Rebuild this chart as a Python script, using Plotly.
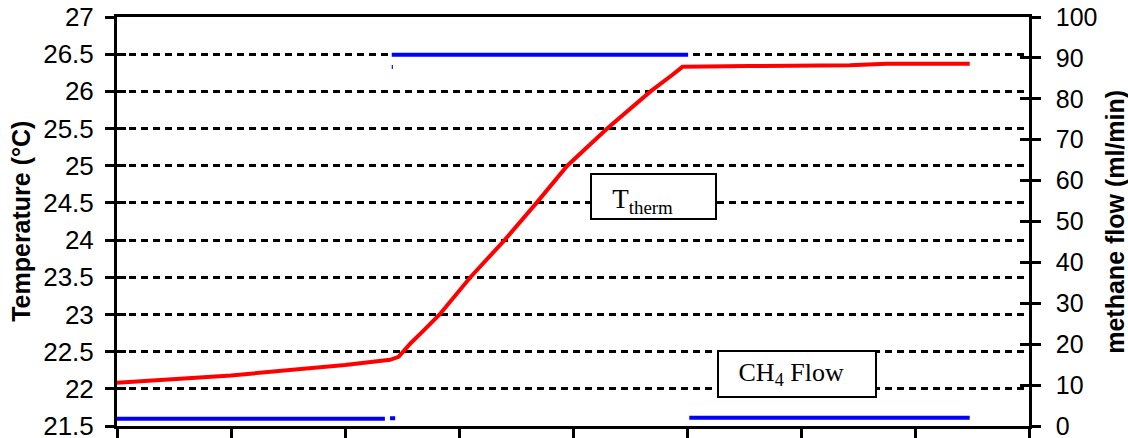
import plotly.graph_objects as go

# Time axis (minutes) for the thermistor temperature record
temp_time = [0, 10, 20, 23.95, 24.7, 25.8, 26.8, 28.3, 31.0, 34.0, 36.8, 39.5,
             43.0, 46.8, 48.7, 49.6, 55.5, 64.3, 67.5, 74.8]
temp_value = [22.08, 22.18, 22.32, 22.39, 22.43, 22.62, 22.77, 23.0, 23.5, 24.0,
              24.5, 25.0, 25.5, 26.0, 26.22, 26.33, 26.34, 26.35, 26.37, 26.37]

# Methane flow record; None splits the logged segments
flow_time = [0, 23.5, None, 23.95, 24.4, None, 24.1, 24.2, None,
             24.1, 50.1, None, 50.2, 74.8]
flow_value = [1.8, 1.8, None, 1.9, 1.9, None, 87.8, 87.8, None,
              90.8, 90.8, None, 2.0, 2.0]

temp_ticks = [21.5, 22, 22.5, 23, 23.5, 24, 24.5, 25, 25.5, 26, 26.5, 27]
flow_ticks = [0, 10, 20, 30, 40, 50, 60, 70, 80, 90, 100]

TEMP_RANGE = [21.5, 27]
FLOW_RANGE = [0, 100]
X_RANGE = [0, 80]

fig = go.Figure()

fig.add_trace(go.Scatter(
    x=temp_time, y=temp_value, mode="lines",
    line=dict(color="#FF0000", width=4),
    xaxis="x", yaxis="y", showlegend=False,
))
fig.add_trace(go.Scatter(
    x=flow_time, y=flow_value, mode="lines",
    line=dict(color="#0000FF", width=4),
    connectgaps=False,
    xaxis="x", yaxis="y2", showlegend=False,
))

tick_font = dict(family="Liberation Sans, Arial, sans-serif", size=26, color="black")
title_font = dict(family="Liberation Sans, Arial, sans-serif", size=25, color="black")
label_font = dict(family="Liberation Serif, Times New Roman, serif", size=27, color="black")

fig.update_layout(
    width=1128, height=438,
    margin=dict(l=117, r=99, t=17, b=12, autoexpand=False),
    paper_bgcolor="white", plot_bgcolor="white",
    xaxis=dict(
        range=X_RANGE, dtick=10, tick0=0, automargin=False,
        showticklabels=False, ticks="outside", ticklen=9, tickwidth=3,
        tickcolor="black", showgrid=False, zeroline=False,
        showline=True, linecolor="black", linewidth=3, mirror=True,
    ),
    yaxis=dict(
        range=TEMP_RANGE, tickvals=temp_ticks, automargin=False,
        ticktext=[f"{v:g}" for v in temp_ticks],
        ticks="outside", ticklen=9, tickwidth=2.5, tickcolor="black",
        ticklabelstandoff=6, ticklabeloverflow="allow",
        tickfont=tick_font,
        showgrid=True, gridcolor="black", gridwidth=2.5, griddash="7px,5px",
        zeroline=False,
        showline=True, linecolor="black", linewidth=3,
    ),
    yaxis2=dict(
        range=FLOW_RANGE, tickvals=flow_ticks, automargin=False,
        overlaying="y", side="right", anchor="x",
        ticks="outside", ticklen=9, tickwidth=2.5, tickcolor="black",
        ticklabelstandoff=10, ticklabeloverflow="allow",
        tickfont=dict(family="Liberation Sans, Arial, sans-serif", size=25, color="black"),
        showgrid=False, zeroline=False,
        showline=True, linecolor="black", linewidth=2.5,
    ),
    # inner halves of the crossing tick marks
    yaxis3=dict(
        range=TEMP_RANGE, tickvals=temp_ticks, overlaying="y", side="left",
        anchor="x", ticks="inside", ticklen=9, tickwidth=2.5, tickcolor="black",
        automargin=False,
        showticklabels=False, showgrid=False, zeroline=False, showline=False,
    ),
    yaxis4=dict(
        range=FLOW_RANGE, tickvals=flow_ticks, overlaying="y", side="right",
        anchor="x", ticks="inside", ticklen=9, tickwidth=2.5, tickcolor="black",
        automargin=False,
        showticklabels=False, showgrid=False, zeroline=False, showline=False,
    ),
)

# keep the extra tick axes in the layout by giving them an empty trace each
fig.add_trace(go.Scatter(x=[], y=[], xaxis="x", yaxis="y3", showlegend=False))
fig.add_trace(go.Scatter(x=[], y=[], xaxis="x", yaxis="y4", showlegend=False))

annotations = [
    dict(text="<b>Temperature (°C)</b>", xref="paper", yref="paper",
         x=-0.106, y=0.5, xanchor="center", yanchor="middle",
         textangle=-90, showarrow=False, font=title_font),
    dict(text="<b>methane flow (ml/min)</b>", xref="paper", yref="paper",
         x=1.0935, y=0.5, xanchor="center", yanchor="middle",
         textangle=-90, showarrow=False, font=title_font),
    dict(text="&nbsp;&nbsp;&nbsp;T<sub>therm</sub>", xref="x", yref="y",
         x=47.06, y=24.58, xanchor="center", yanchor="middle",
         width=123, height=43, align="left", valign="bottom",
         showarrow=False, font=label_font,
         bgcolor="white", bordercolor="black", borderwidth=2, borderpad=0),
    dict(text="&nbsp;&nbsp;&nbsp;CH<sub>4</sub> Flow", xref="x", yref="y",
         x=59.65, y=22.20, xanchor="center", yanchor="middle",
         width=156, height=44, align="left", valign="middle",
         showarrow=False, font=dict(family="Liberation Serif, Times New Roman, serif", size=26, color="black"),
         bgcolor="white", bordercolor="black", borderwidth=2, borderpad=0),
]
fig.update_layout(annotations=annotations)

fig.write_html("out.html")
